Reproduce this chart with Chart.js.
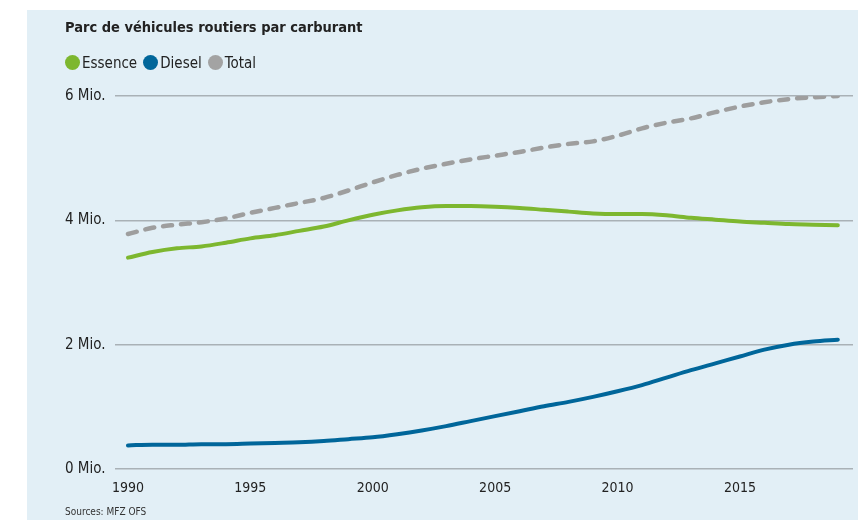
<!DOCTYPE html>
<html>
<head>
<meta charset="utf-8">
<script src="https://cdn.jsdelivr.net/npm/chart.js@4"></script>
<style>
    body { margin: 0; background: #fff; }
    #fond { position: absolute; left: 27px; top: 10px; width: 831px; height: 510px; background: #e2eff6; }
    #zone { position: absolute; left: 0; top: 0; width: 858px; height: 520px; }
    .txt { position: absolute; font-family: "Liberation Sans Narrow", "DejaVu Sans Condensed", sans-serif; color: #222; white-space: nowrap; }
    #titre { left: 65px; top: 17px; font-size: 14.5px; font-weight: bold; line-height: 20px; }
    #legende { left: 65px; top: 54px; font-size: 15px; line-height: 18px; }
    #legende span.pt { display: inline-block; width: 15px; height: 15px; border-radius: 50%; vertical-align: -2px; margin-right: 2px; }
    #legende span.item { margin-right: 6px; }
    #sources { left: 65px; top: 505px; font-size: 10px; line-height: 14px; color: #333; }
</style>
</head>
<body>
<div id="fond"></div>
<div id="zone"><canvas id="graphParc"></canvas></div>
<div id="titre" class="txt">Parc de véhicules routiers par carburant</div>
<div id="legende" class="txt"></div>
<div id="sources" class="txt">Sources: MFZ OFS</div>
<script>
//Donnees (millions de vehicules)
const annees = [1990, 1991, 1992, 1993, 1994, 1995, 1996, 1997, 1998, 1999,
                2000, 2001, 2002, 2003, 2004, 2005, 2006, 2007, 2008, 2009,
                2010, 2011, 2012, 2013, 2014, 2015, 2016, 2017, 2018, 2019];
const essence = [3.40, 3.49, 3.55, 3.58, 3.64, 3.71, 3.76, 3.83, 3.90, 4.00,
                 4.09, 4.16, 4.21, 4.23, 4.23, 4.22, 4.20, 4.17, 4.14, 4.11,
                 4.10, 4.10, 4.08, 4.04, 4.01, 3.98, 3.96, 3.94, 3.93, 3.92];
const diesel = [0.38, 0.39, 0.39, 0.40, 0.40, 0.41, 0.42, 0.43, 0.45, 0.48,
                0.51, 0.56, 0.62, 0.69, 0.77, 0.85, 0.93, 1.01, 1.08, 1.16,
                1.25, 1.35, 1.47, 1.59, 1.70, 1.81, 1.92, 2.00, 2.05, 2.08];
const total = [3.78, 3.88, 3.93, 3.97, 4.03, 4.12, 4.20, 4.28, 4.36, 4.48,
               4.61, 4.73, 4.83, 4.91, 4.98, 5.04, 5.10, 5.17, 5.23, 5.27,
               5.36, 5.48, 5.57, 5.64, 5.74, 5.83, 5.90, 5.95, 5.98, 6.00];
const ticksX = [1990, 1995, 2000, 2005, 2010, 2015];
const ticksY = [0, 2, 4, 6];

const noms = ['Essence', 'Diesel', 'Total'];
const couleurs = ['#7db72f', '#00669a', '#9e9e9e'];
const police = '"Liberation Sans Narrow", "DejaVu Sans Condensed", sans-serif';

function points(valeurs){
    return valeurs.map((v, i) => ({ x: annees[i], y: v }));
}

//Legende HTML
const legende = document.querySelector('#legende');
legende.innerHTML = noms.map((n, i) =>
    `<span class="item"><span class="pt" style="background:${i === 2 ? '#a3a3a3' : couleurs[i]}"></span>${n}</span>`
).join('');

const data = {
    datasets: [
        { label: noms[0], data: points(essence), borderColor: couleurs[0], borderWidth: 4, cubicInterpolationMode: 'monotone', pointRadius: 0, borderCapStyle: 'round' },
        { label: noms[1], data: points(diesel), borderColor: couleurs[1], borderWidth: 4, cubicInterpolationMode: 'monotone', pointRadius: 0, borderCapStyle: 'round' },
        { label: noms[2], data: points(total), borderColor: couleurs[2], borderWidth: 4.5, cubicInterpolationMode: 'monotone', pointRadius: 0, borderDash: [9, 9], borderCapStyle: 'round' }
    ]
};

const config = {
    type: 'line',
    data: data,
    options: {
        responsive: true,
        maintainAspectRatio: false,
        animation: false,
        layout: { padding: { left: 65, right: 5, top: 96, bottom: 0 } },
        plugins: {
            legend: { display: false },
            tooltip: { enabled: false }
        },
        scales: {
            x: {
                type: 'linear',
                min: 1989.47,
                max: 2019.62,
                afterBuildTicks: (scale) => { scale.ticks = ticksX.map(v => ({ value: v })); },
                grid: { display: false, drawTicks: false },
                border: { display: false },
                afterFit: (scale) => { scale.height = 51; },
                ticks: {
                    autoSkip: false,
                    maxRotation: 0,
                    padding: 11,
                    color: '#222',
                    font: { family: police, size: 14 },
                    callback: (v) => String(v)
                }
            },
            y: {
                min: ticksY[0],
                max: ticksY[ticksY.length - 1],
                afterBuildTicks: (scale) => { scale.ticks = ticksY.map(v => ({ value: v })); },
                afterFit: (scale) => { scale.width = 50; },
                grid: { color: '#a9b1b6', lineWidth: 1.5, drawTicks: false },
                border: { display: false },
                ticks: {
                    crossAlign: 'far',
                    color: '#222',
                    font: { family: police, size: 15 },
                    callback: (v) => v + ' Mio.'
                }
            }
        }
    }
};

new Chart(document.querySelector('#graphParc'), config);
</script>
</body>
</html>
